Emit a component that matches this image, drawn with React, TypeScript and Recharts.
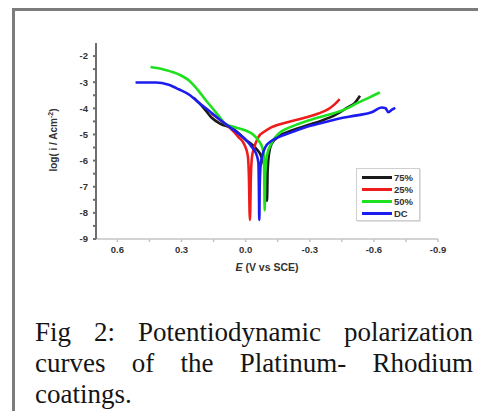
import { Legend, Line, LineChart, XAxis, YAxis } from "recharts";

// Potential (V vs SCE) and log current density for each coating
const e75 = [0.243, 0.2, 0.16, 0.118, 0.06, 0.0, -0.05, -0.075, -0.092, -0.1, -0.103, -0.11, -0.122, -0.16, -0.215, -0.3, -0.355, -0.42, -0.48, -0.51, -0.535];
const i75 = [-3.59, -3.95, -4.35, -4.59, -4.78, -5.2, -5.55, -5.87, -6.4, -7.54, -6.4, -5.7, -5.35, -5.05, -4.85, -4.62, -4.47, -4.25, -3.95, -3.8, -3.52];

const e25 = [0.16, 0.126, 0.08, 0.033, 0.005, -0.01, -0.015, -0.02, -0.025, -0.03, -0.04, -0.06, -0.09, -0.122, -0.2, -0.28, -0.34, -0.387, -0.42, -0.44];
const i25 = [-4.2, -4.4, -4.7, -5.1, -5.4, -5.8, -6.5, -8.27, -6.5, -5.85, -5.5, -5.1, -4.88, -4.72, -4.52, -4.35, -4.2, -4.03, -3.82, -3.65];

const e50 = [0.445, 0.38, 0.313, 0.26, 0.22, 0.19, 0.158, 0.125, 0.095, 0.05, 0.0, -0.035, -0.06, -0.078, -0.084, -0.087, -0.089, -0.092, -0.1, -0.12, -0.154, -0.2, -0.247, -0.32, -0.4, -0.47, -0.527, -0.58, -0.628];
const i50 = [-2.42, -2.52, -2.7, -2.97, -3.33, -3.65, -3.97, -4.3, -4.6, -4.72, -4.85, -5.0, -5.23, -5.5, -5.73, -6.5, -7.9, -6.5, -5.8, -5.35, -4.97, -4.75, -4.6, -4.4, -4.22, -4.02, -3.78, -3.58, -3.39];

const eDC = [0.515, 0.42, 0.36, 0.313, 0.26, 0.22, 0.17, 0.126, 0.08, 0.033, 0.0, -0.03, -0.05, -0.06, -0.062, -0.064, -0.066, -0.07, -0.08, -0.092, -0.12, -0.154, -0.22, -0.28, -0.36, -0.434, -0.52, -0.59, -0.636, -0.655, -0.667, -0.685, -0.7];
const iDC = [-3.01, -3.01, -3.1, -3.27, -3.5, -3.78, -4.1, -4.4, -4.68, -4.97, -5.2, -5.49, -5.75, -6.1, -7.0, -8.27, -7.0, -6.2, -5.75, -5.49, -5.25, -5.1, -4.9, -4.72, -4.55, -4.4, -4.27, -4.15, -3.97, -4.0, -4.15, -4.05, -3.98];

const xTicks = [0.6, 0.45, 0.3, 0.15, 0, -0.15, -0.3, -0.45, -0.6, -0.75, -0.9];
const xMajor = [0.6, 0.3, 0, -0.3, -0.6, -0.9];
const yTicks = [-2, -2.5, -3, -3.5, -4, -4.5, -5, -5.5, -6, -6.5, -7, -7.5, -8, -8.5, -9];

const toPoints = (es: number[], is: number[]) => es.map((e, k) => ({ e, i: is[k] }));

const series = [
  { name: "75%", color: "#1b1b1b", data: toPoints(e75, i75) },
  { name: "25%", color: "#f01c1c", data: toPoints(e25, i25) },
  { name: "50%", color: "#1ee01e", data: toPoints(e50, i50) },
  { name: "DC", color: "#1c1cf0", data: toPoints(eDC, iDC) },
];

const sans = "Arial, 'Liberation Sans', sans-serif";
const tickFont = { fontSize: 9.5, fontWeight: 700, fill: "#333", fontFamily: sans };

const fmtX = (v: number) => {
  if (!xMajor.some((m) => Math.abs(m - v) < 1e-6)) return "";
  return v === 0 ? "0.0" : v.toFixed(1);
};
const fmtY = (v: number) => (Number.isInteger(v) ? String(v) : "");

const LegendBox = () => (
  <div
    style={{
      border: "1px solid #cfcfcf",
      boxShadow: "1px 1px 0 #e2e2e2",
      background: "#fff",
      padding: "2px 2px 1px 5px",
      fontFamily: sans,
      fontSize: 9.5,
      fontWeight: 700,
      color: "#333",
    }}
  >
    {series.map((s) => (
      <div key={s.name} style={{ display: "flex", alignItems: "center", height: 12 }}>
        <span style={{ width: 30, height: 3, background: s.color, marginRight: 2 }} />
        <span>{s.name}</span>
      </div>
    ))}
  </div>
);

export default function App() {
  return (
    <div style={{ position: "relative", width: 486, height: 419, margin: -8, background: "#fff", overflow: "hidden" }}>
      <div
        style={{
          position: "absolute",
          left: 12,
          top: 8,
          width: 486,
          height: 430,
          borderLeft: "3px solid #7c7c7c",
          borderTop: "3px solid #7c7c7c",
        }}
      />
      <div style={{ position: "absolute", left: 0, top: 0 }}>
        <LineChart width={486} height={280} margin={{ top: 43, right: 48, bottom: 21, left: 76 }}>
          <XAxis
            dataKey="e"
            type="number"
            domain={[-0.9, 0.7]}
            reversed
            ticks={xTicks}
            tickFormatter={fmtX}
            interval={0}
            allowDataOverflow
            height={20}
            tick={tickFont}
            tickSize={3}
            tickMargin={4}
            stroke="#c4c4c4"
            strokeWidth={1.5}
          />
          <XAxis xAxisId="top" orientation="top" type="number" domain={[-0.9, 0.7]} reversed height={0} tick={false} tickLine={false} stroke="#c8c8c8" strokeWidth={2} />
          <YAxis
            type="number"
            domain={[-9, -1.5]}
            ticks={yTicks}
            tickFormatter={fmtY}
            interval={0}
            allowDataOverflow
            width={20}
            tick={tickFont}
            tickSize={3}
            tickMargin={5}
            stroke="#6e6e6e"
            strokeWidth={2}
          />
          <YAxis yAxisId="right" orientation="right" type="number" domain={[-9, -1.5]} width={0} tick={false} tickLine={false} stroke="#a8a8a8" strokeWidth={2.5} />
          <Legend
            layout="horizontal"
            verticalAlign="middle"
            content={<LegendBox />}
            wrapperStyle={{ position: "absolute", left: 356, top: 168, width: 64, bottom: "auto" }}
          />
          {series.map((s) => (
            <Line
              key={s.name}
              data={s.data}
              dataKey="i"
              name={s.name}
              type="monotone"
              stroke={s.color}
              strokeWidth={2.6}
              dot={false}
              isAnimationActive={false}
            />
          ))}
        </LineChart>
      </div>
      <div
        style={{
          position: "absolute",
          left: 53,
          top: 140,
          transform: "translate(-50%, -50%) rotate(-90deg)",
          whiteSpace: "nowrap",
          fontFamily: sans,
          fontSize: 10,
          fontWeight: 700,
          color: "#333",
        }}
      >
        log( i / Acm<sup style={{ fontSize: 7 }}>-2</sup>)
      </div>
      <div
        style={{
          position: "absolute",
          left: 267,
          top: 267,
          transform: "translate(-50%, -50%)",
          whiteSpace: "nowrap",
          fontFamily: sans,
          fontSize: 10.5,
          fontWeight: 700,
          color: "#333",
        }}
      >
        <i>E</i> (V vs SCE)
      </div>
      <div
        style={{
          position: "absolute",
          left: 35,
          top: 317,
          width: 438,
          fontFamily: "'Liberation Serif', 'Times New Roman', serif",
          fontSize: 27,
          lineHeight: "31px",
          color: "#151515",
          textAlign: "justify",
        }}
      >
        Fig 2: Potentiodynamic polarization curves of the Platinum- Rhodium coatings.
      </div>
    </div>
  );
}
